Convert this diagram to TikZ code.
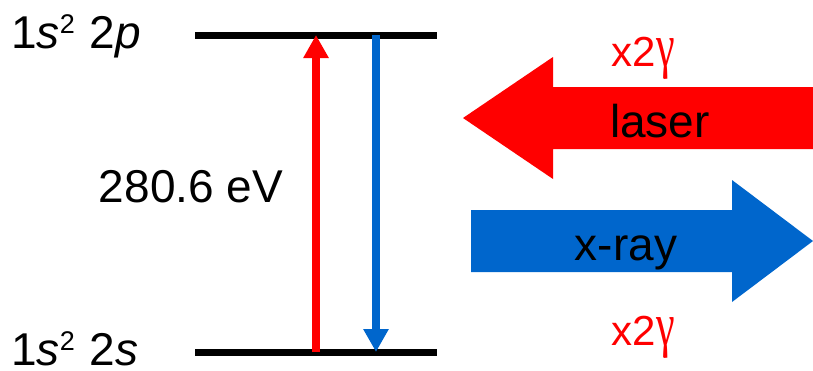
\documentclass[tikz,border=0pt]{standalone}
\usepackage{fontspec}
\usepackage{graphicx}
\setmainfont{Liberation Sans}
\newfontfamily\gamfont{Liberation Serif}
\usetikzlibrary{arrows.meta}
\definecolor{lred}{RGB}{255,0,0}
\definecolor{xblue}{RGB}{0,102,204}
\newcommand{\supr}[1]{\raisebox{15pt}{\fontsize{27}{27}\selectfont #1}}
\newcommand{\gam}{\hspace{1pt}\scalebox{1}[1.45]{\gamfont γ}}
\begin{document}
\begin{tikzpicture}[x=1pt,y=-1pt,
  level/.style={line width=7pt, draw=black},
  transup/.style={line width=8pt, draw=lred, -{Triangle[width=24pt,length=23pt]}},
  transdown/.style={line width=8pt, draw=xblue, -{Triangle[width=24pt,length=23pt]}},
  txt/.style={inner sep=0pt, anchor=base, font=\fontsize{46}{46}\selectfont},
  gamtxt/.style={txt, text=lred, font=\fontsize{42}{42}\selectfont}
]
\useasboundingbox (0,0) rectangle (813,370);
% levels
\coordinate (up1) at (195,35);
\coordinate (up2) at (437,35);
\coordinate (lo1) at (195,352);
\coordinate (lo2) at (437,352);
\draw[level] (up1) -- (up2);
\draw[level] (lo1) -- (lo2);
\node[txt, anchor=base west] (lab2p) at (11,48) {1\textit{s}\supr{2}\hspace{2pt} 2\textit{p}};
\node[txt, anchor=base west] (lab2s) at (11,365) {\raisebox{0pt}[\height][0pt]{1\textit{s}\supr{2}\hspace{2pt} 2\textit{s}}};
% transitions
\coordinate (rb) at (316,352);
\coordinate (rt) at (316,35);
\coordinate (bt) at (376,35);
\coordinate (bb) at (376,352);
\draw[transup] (rb) -- (rt);
\draw[transdown] (bt) -- (bb);
\node[txt] (energy) at (191,202) {280.6 eV};
% laser arrow
\fill[lred] (813,87) -- (553,87) -- (553,57) -- (463,118) -- (553,179) -- (553,149) -- (813,149) -- cycle;
\node[txt] (laser) at (660,137) {laser};
\node[gamtxt] (g1) at (643,66) {x2\gam};
% x-ray arrow
\fill[xblue] (471,210) -- (732,210) -- (732,180) -- (813,241) -- (732,302) -- (732,272) -- (471,272) -- cycle;
\node[txt] (xray) at (626,260) {x-ray};
\node[gamtxt] (g2) at (643,345) {x2\gam};
\end{tikzpicture}
\end{document}
